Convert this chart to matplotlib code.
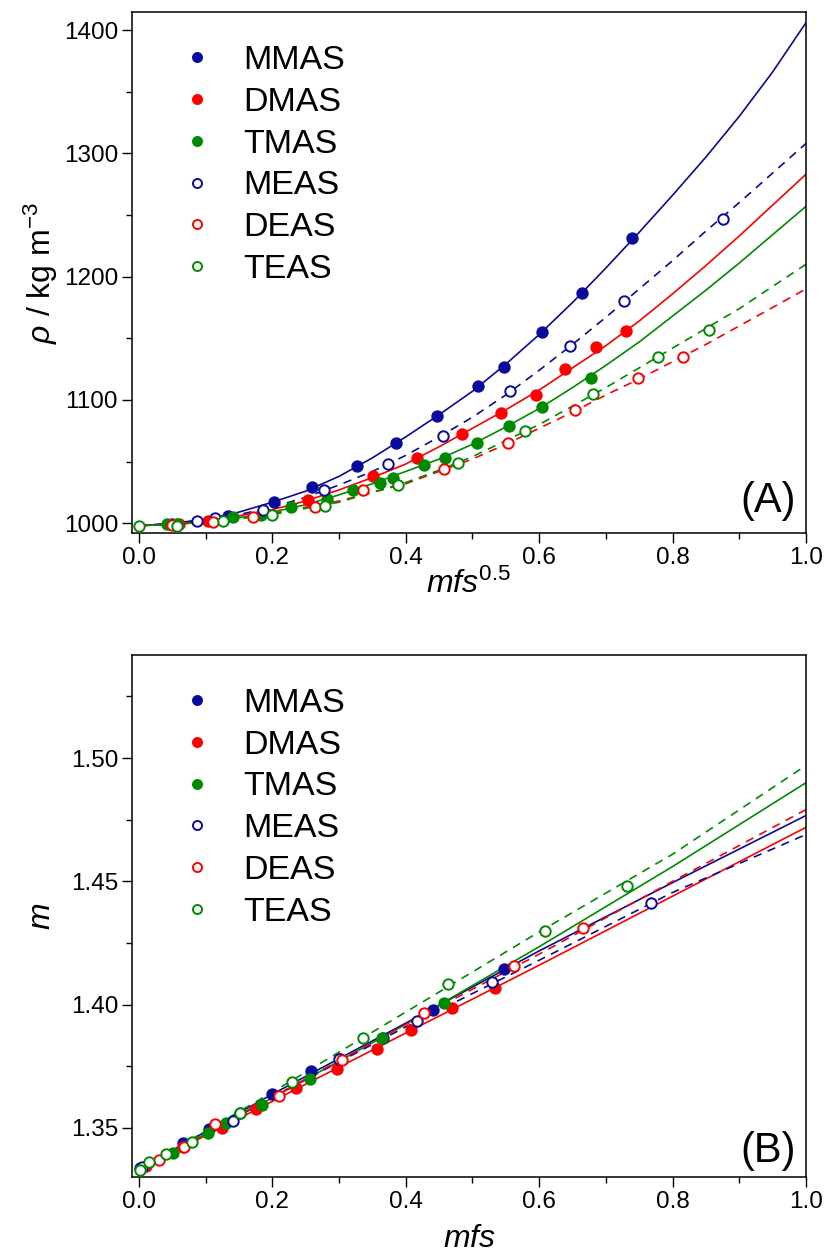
import numpy as np
import matplotlib
matplotlib.use("Agg")
import matplotlib.pyplot as plt
from matplotlib.lines import Line2D
from matplotlib.ticker import MultipleLocator

plt.rcParams['font.family'] = ['Liberation Sans', 'DejaVu Sans']
plt.rcParams['mathtext.fontset'] = 'custom'
plt.rcParams['mathtext.rm'] = 'Liberation Sans'
plt.rcParams['mathtext.it'] = 'Liberation Sans:italic'

BLUE = '#0a0a9c'
RED = '#ff0000'
GREEN = '#008a00'

names = ['MMAS', 'DMAS', 'TMAS', 'MEAS', 'DEAS', 'TEAS']
colors = [BLUE, RED, GREEN, BLUE, RED, GREEN]
filled = [True, True, True, False, False, False]

# ---- panel A: density vs mfs^0.5 ----
a_x = {
    'MMAS': [0.05, 0.133, 0.202, 0.26, 0.327, 0.385, 0.447, 0.508, 0.547, 0.604, 0.664, 0.739],
    'DMAS': [0.06, 0.103, 0.253, 0.351, 0.417, 0.484, 0.543, 0.595, 0.639, 0.685, 0.730],
    'TMAS': [0.042, 0.057, 0.141, 0.183, 0.228, 0.282, 0.321, 0.361, 0.381, 0.427, 0.459, 0.507, 0.555, 0.604, 0.678],
    'MEAS': [0.087, 0.114, 0.186, 0.277, 0.373, 0.456, 0.556, 0.646, 0.727, 0.876],
    'DEAS': [0.05, 0.111, 0.171, 0.264, 0.336, 0.457, 0.553, 0.654, 0.748, 0.816],
    'TEAS': [0.0, 0.057, 0.126, 0.20, 0.279, 0.388, 0.478, 0.579, 0.681, 0.778, 0.855],
}
a_y = {
    'MMAS': [999, 1006, 1017, 1029, 1046, 1065, 1087, 1111, 1127, 1155, 1187, 1231],
    'DMAS': [999, 1002, 1019, 1038, 1053, 1072, 1089, 1104, 1125, 1143, 1156],
    'TMAS': [999, 999, 1005, 1007, 1013, 1020, 1027, 1033, 1037, 1047, 1053, 1065, 1079, 1094, 1118],
    'MEAS': [1002, 1004, 1011, 1027, 1048, 1071, 1107, 1144, 1180, 1247],
    'DEAS': [998.5, 1001, 1005, 1013, 1027, 1044, 1065, 1092, 1118, 1135],
    'TEAS': [998, 998, 1002, 1007, 1014, 1031, 1049, 1075, 1105, 1135, 1157],
}
a_fit_x = [0.0, 0.05, 0.1, 0.15, 0.2, 0.25, 0.3, 0.35, 0.4, 0.45, 0.5,
           0.55, 0.6, 0.65, 0.7, 0.75, 0.8, 0.85, 0.9, 0.95, 1.0]
a_fit = {
    'MMAS': [998, 999.5, 1003, 1009, 1017, 1026, 1038, 1053, 1070, 1088, 1107,
             1129, 1153, 1179, 1207, 1236, 1266, 1297, 1330, 1366, 1406],
    'DMAS': [998, 999, 1002, 1006, 1011, 1018, 1027, 1037, 1048, 1062, 1077,
             1092, 1108, 1126, 1144, 1164, 1186, 1209, 1233, 1258, 1283],
    'TMAS': [998, 999, 1001, 1004.5, 1009, 1015, 1023, 1032, 1042, 1052, 1064,
             1078, 1093, 1110, 1128, 1147, 1168, 1189, 1211, 1234, 1257],
    'MEAS': [998, 1000, 1003, 1007, 1013, 1021, 1031, 1042, 1055, 1070, 1086,
             1104, 1124, 1145, 1167, 1190, 1213, 1237, 1260, 1284, 1308],
    'DEAS': [998, 999, 1001, 1004, 1008, 1013, 1018, 1025, 1032, 1042, 1052,
             1064, 1077, 1090, 1104, 1117, 1131, 1145, 1160, 1175, 1190],
    'TEAS': [998, 999, 1001, 1003.5, 1007, 1012, 1017, 1025, 1033, 1043, 1054,
             1067, 1080, 1095, 1110, 1126, 1142, 1158, 1174, 1192, 1210],
}

# ---- panel B: refractive index vs mfs ----
b_x = {
    'MMAS': [0.0015, 0.066, 0.105, 0.2, 0.258, 0.301, 0.366, 0.441, 0.548],
    'DMAS': [0.01, 0.066, 0.124, 0.175, 0.235, 0.297, 0.357, 0.408, 0.469, 0.534],
    'TMAS': [0.051, 0.103, 0.13, 0.184, 0.256, 0.364, 0.457],
    'MEAS': [0.004, 0.141, 0.151, 0.3, 0.417, 0.529, 0.768],
    'DEAS': [0.03, 0.067, 0.114, 0.21, 0.305, 0.427, 0.562, 0.666],
    'TEAS': [0.0015, 0.015, 0.04, 0.079, 0.151, 0.229, 0.336, 0.463, 0.609, 0.732],
}
b_y = {
    'MMAS': [1.3339, 1.3440, 1.3496, 1.3637, 1.3730, 1.3780, 1.3866, 1.3980, 1.4144],
    'DMAS': [1.3345, 1.3424, 1.3500, 1.3576, 1.3660, 1.3737, 1.3820, 1.3898, 1.3985, 1.4067],
    'TMAS': [1.3400, 1.3480, 1.3520, 1.3593, 1.3700, 1.3866, 1.4007],
    'MEAS': [1.3340, 1.3528, 1.3560, 1.3780, 1.3934, 1.4090, 1.4413],
    'DEAS': [1.3371, 1.3424, 1.3516, 1.3629, 1.3774, 1.3967, 1.4156, 1.4309],
    'TEAS': [1.3328, 1.3360, 1.3395, 1.3444, 1.3560, 1.3685, 1.3866, 1.4085, 1.4300, 1.4480],
}
b_fit_x = [0.0, 0.2, 0.4, 0.6, 0.8, 1.0]
b_fit = {
    'MMAS': [1.3333, 1.3637, 1.3925, 1.4218, 1.4495, 1.4767],
    'DMAS': [1.3330, 1.3608, 1.3885, 1.4160, 1.4440, 1.4719],
    'TMAS': [1.3330, 1.3622, 1.3920, 1.4235, 1.4560, 1.4900],
    'MEAS': [1.3330, 1.3625, 1.3910, 1.4180, 1.4455, 1.4690],
    'DEAS': [1.3330, 1.3625, 1.3920, 1.4205, 1.4500, 1.4791],
    'TEAS': [1.3330, 1.3645, 1.3970, 1.4295, 1.4610, 1.4970],
}

fig = plt.figure(figsize=(8.28, 12.56), dpi=100)
axA = fig.add_axes([0.1594, 0.5756, 0.8140, 0.4148])
axB = fig.add_axes([0.1594, 0.0629, 0.8140, 0.4156])


def draw(ax, xs, ys, fx, fits):
    handles = []
    for n, c, f in zip(names, colors, filled):
        ls = '-' if f else (0, (5, 4))
        ax.plot(fx, fits[n], color=c, lw=1.2, linestyle=ls, zorder=2)
        fc = c if f else 'white'
        ax.plot(xs[n], ys[n], 'o', ms=7.5, mfc=fc, mec=c, mew=1.4, zorder=3)
        handles.append(Line2D([], [], marker='o', ls='none', ms=6.5, mfc=fc, mec=c, mew=1.4))
    ax.legend(handles, names, loc='upper left', bbox_to_anchor=(0.026, 0.996), frameon=False,
              fontsize=24.5, handlelength=1.0, handletextpad=0.85, labelspacing=0.32)


def style(ax):
    ax.set_xlim(-0.0105, 1.0)
    ax.xaxis.set_major_locator(MultipleLocator(0.2))
    ax.xaxis.set_minor_locator(MultipleLocator(0.1))
    ax.tick_params(which='both', direction='out', top=False, right=False, width=1.0, labelsize=17.5)
    ax.tick_params(which='major', length=7, pad=3)
    ax.tick_params(which='minor', length=4)
    for s in ax.spines.values():
        s.set_linewidth(1.1)


draw(axA, a_x, a_y, a_fit_x, a_fit)
style(axA)
axA.set_ylim(992, 1414.6)
axA.yaxis.set_major_locator(MultipleLocator(100))
axA.yaxis.set_minor_locator(MultipleLocator(50))
axA.xaxis.set_major_formatter(plt.FormatStrFormatter('%.1f'))
axA.set_xlabel(r'$mfs^{\mathrm{0.5}}$', fontsize=23, labelpad=0)
axA.set_ylabel(r'$\rho$ / kg m$^{\mathrm{-3}}$', fontsize=23, labelpad=3)
axA.text(0.985, 0.024, '(A)', transform=axA.transAxes, ha='right', va='bottom', fontsize=30)

draw(axB, b_x, b_y, b_fit_x, b_fit)
style(axB)
axB.set_ylim(1.3301, 1.5418)
axB.yaxis.set_major_locator(MultipleLocator(0.05))
axB.yaxis.set_minor_locator(MultipleLocator(0.025))
axB.xaxis.set_major_formatter(plt.FormatStrFormatter('%.1f'))
axB.yaxis.set_major_formatter(plt.FormatStrFormatter('%.2f'))
axB.set_xlabel(r'$mfs$', fontsize=23, labelpad=8)
axB.set_ylabel(r'$m$', fontsize=23, labelpad=10)
axB.text(0.985, 0.012, '(B)', transform=axB.transAxes, ha='right', va='bottom', fontsize=30)

fig.savefig('out.png', dpi=100)
